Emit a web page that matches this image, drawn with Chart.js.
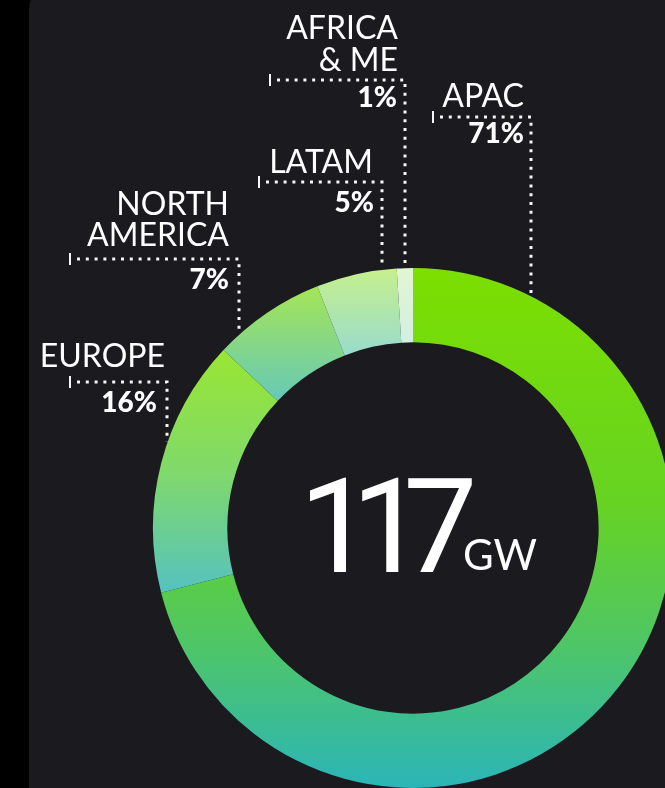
<!DOCTYPE html>
<html>
<head>
<meta charset="utf-8">
<script src="https://cdn.jsdelivr.net/npm/chart.js@4"></script>
<style>
html, body { margin: 0; padding: 0; width: 665px; height: 788px; overflow: hidden; background: #000; }
.panel { position: absolute; left: 29px; top: -20px; width: 700px; height: 900px; border-radius: 30px; background: #1b1a1f; }
#capacityChart { position: absolute; left: 0; top: 0; }
</style>
</head>
<body>
<div class="panel"></div>
<canvas id="capacityChart" width="700" height="800"></canvas>
<script>
// regions and their share of installed capacity (%)
const categories = [['APAC'], ['EUROPE'], ['NORTH', 'AMERICA'], ['LATAM'], ['AFRICA', '& ME']];
const shares = [71, 16, 7, 5, 1];
const totalGW = 117;
const unit = 'GW';

// top -> bottom colours of each slice gradient
const sliceColors = [
  ['#7cdf00', '#66d322', '#4fc666', '#2bb5b8'],
  ['#99e633', '#80d96a', '#55c2bf'],
  ['#a5e555', '#66c9b8'],
  ['#c6f08c', '#98dbcd'],
  ['#e2f6d2', '#d3efe4']
];

// where each callout sits on the page
const callouts = [
  { leaderX: 531, lineY: 117, tickX: 433, textRight: 524, nameBase: [107], pctRight: 524, pctBase: 143 },
  { leaderX: 167, lineY: 382, tickX: 70, textRight: 165, nameBase: [367], pctRight: 157, pctBase: 412 },
  { leaderX: 239, lineY: 259, tickX: 70, textRight: 229, nameBase: [215, 246], pctRight: 229, pctBase: 289 },
  { leaderX: 382, lineY: 182, tickX: 259, textRight: 373, nameBase: [173], pctRight: 374, pctBase: 212 },
  { leaderX: 405, lineY: 80, tickX: 270, textRight: 398, nameBase: [39, 71], pctRight: 397, pctBase: 107 }
];

const CUTOUT = 0.714;

function ringGeometry(chart) {
  const a = chart.chartArea;
  const R = Math.min(a.right - a.left, a.bottom - a.top) / 2;
  return { cx: (a.left + a.right) / 2, cy: (a.top + a.bottom) / 2, R: R, r: R * CUTOUT };
}

function sliceGradient(context) {
  const chart = context.chart;
  const i = context.dataIndex;
  const stops = sliceColors[i];
  if (!chart.chartArea) return stops[0];
  const g = ringGeometry(chart);
  const total = shares.reduce((s, v) => s + v, 0);
  let before = 0;
  for (let k = 0; k < i; k++) before += shares[k];
  const a0 = -Math.PI / 2 + 2 * Math.PI * before / total;
  const a1 = a0 + 2 * Math.PI * shares[i] / total;
  let yMin = Infinity, yMax = -Infinity;
  for (let s = 0; s <= 90; s++) {
    const a = a0 + (a1 - a0) * s / 90;
    [g.R, g.r].forEach(rad => {
      const y = g.cy + rad * Math.sin(a);
      yMin = Math.min(yMin, y);
      yMax = Math.max(yMax, y);
    });
  }
  const grad = chart.ctx.createLinearGradient(0, yMin, 0, yMax);
  if (stops.length === 4) {
    grad.addColorStop(0, stops[0]);
    grad.addColorStop(0.45, stops[1]);
    grad.addColorStop(0.72, stops[2]);
    grad.addColorStop(1, stops[3]);
  } else {
    stops.forEach((c, k) => grad.addColorStop(k / (stops.length - 1), c));
  }
  return grad;
}

const calloutPlugin = {
  id: 'callouts',
  afterDraw(chart) {
    const ctx = chart.ctx;
    const g = ringGeometry(chart);
    ctx.save();

    callouts.forEach((c, i) => {
      const dx = c.leaderX - g.cx;
      const endY = g.cy - Math.sqrt(g.R * g.R - dx * dx) - 2;

      ctx.strokeStyle = '#f6f6f6';
      ctx.lineWidth = 3;
      ctx.setLineDash([3, 5.8]);
      ctx.beginPath();
      ctx.moveTo(c.tickX + 7, c.lineY);
      ctx.lineTo(c.leaderX, c.lineY);
      ctx.lineTo(c.leaderX, endY);
      ctx.stroke();

      ctx.setLineDash([]);
      ctx.lineWidth = 2;
      ctx.beginPath();
      ctx.moveTo(c.tickX, c.lineY - 6);
      ctx.lineTo(c.tickX, c.lineY + 6);
      ctx.stroke();

      ctx.fillStyle = '#ffffff';
      ctx.textAlign = 'right';
      ctx.textBaseline = 'alphabetic';
      ctx.font = '400 32px Lato';
      categories[i].forEach((line, k) => ctx.fillText(line, c.textRight, c.nameBase[k]));
      ctx.font = '900 28px Lato';
      ctx.fillText(shares[i] + '%', c.pctRight, c.pctBase);
    });

    // centre total
    ctx.textAlign = 'left';
    ctx.fillStyle = '#ffffff';
    ctx.font = '400 132px Roboto';
    ctx.letterSpacing = '-22px';
    ctx.fillText(String(totalGW), g.cx - 114, g.cy + 44);
    ctx.letterSpacing = '0px';
    ctx.font = '400 42px Lato';
    ctx.fillText(unit, g.cx + 50, g.cy + 42);

    ctx.restore();
  }
};

new Chart(document.getElementById('capacityChart'), {
  type: 'doughnut',
  data: {
    labels: categories,
    datasets: [{
      data: shares,
      backgroundColor: sliceGradient,
      borderWidth: 0
    }]
  },
  options: {
    responsive: false,
    animation: false,
    cutout: (CUTOUT * 100) + '%',
    layout: { padding: { left: 153, top: 268, right: 27, bottom: 12 } },
    plugins: {
      legend: { display: false },
      tooltip: { enabled: false }
    }
  },
  plugins: [calloutPlugin]
});
</script>
</body>
</html>
